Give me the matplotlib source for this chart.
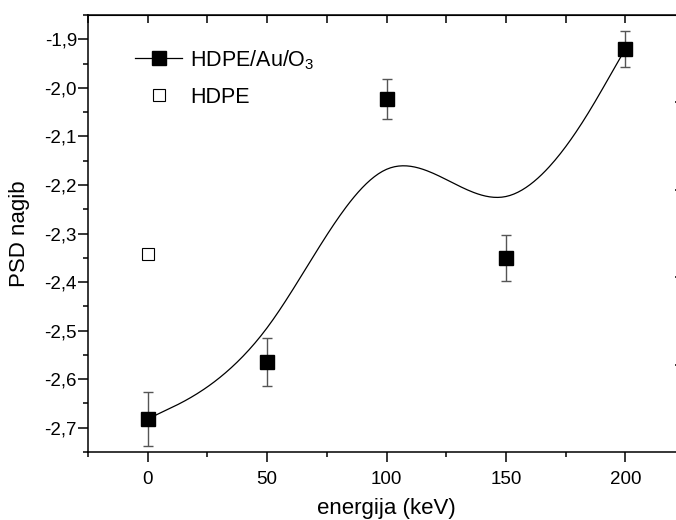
import numpy as np
import matplotlib
matplotlib.use("Agg")
import matplotlib.pyplot as plt
from matplotlib.ticker import MultipleLocator, FuncFormatter

plt.rcParams["font.family"] = ["Liberation Sans", "DejaVu Sans"]
plt.rcParams["mathtext.fontset"] = "custom"
plt.rcParams["mathtext.rm"] = "Liberation Sans"

# HDPE/Au/O3 - energija vs. PSD nagib
energy = [0, 50, 100, 150, 200]
slope = [-2.682, -2.565, -2.023, -2.350, -1.920]
slope_err = [0.055, 0.050, 0.041, 0.047, 0.038]

# HDPE (neozracen)
hdpe_x = [0]
hdpe_y = [-2.342]


def bspline(px, py, n=60):
    # uniformni kubni B-spline, krajnje tocke ponovljene (kao Origin)
    px = np.r_[[px[0]] * 2, px, [px[-1]] * 2]
    py = np.r_[[py[0]] * 2, py, [py[-1]] * 2]
    t = np.linspace(0, 1, n)
    b0 = (1 - t) ** 3 / 6
    b1 = (3 * t**3 - 6 * t**2 + 4) / 6
    b2 = (-3 * t**3 + 3 * t**2 + 3 * t + 1) / 6
    b3 = t**3 / 6
    xs, ys = [], []
    for i in range(len(px) - 3):
        xs.append(b0 * px[i] + b1 * px[i + 1] + b2 * px[i + 2] + b3 * px[i + 3])
        ys.append(b0 * py[i] + b1 * py[i + 1] + b2 * py[i + 2] + b3 * py[i + 3])
    return np.concatenate(xs), np.concatenate(ys)


fig = plt.figure(figsize=(6.76, 5.2), dpi=100)
ax = fig.add_axes([88 / 676, 68 / 520, 597 / 676, 437 / 520])

cx, cy = bspline(np.array(energy, float), np.array(slope, float))
curve, = ax.plot(cx, cy, color="black", lw=0.9)
ax.errorbar(energy, slope, yerr=slope_err, fmt="none", ecolor="#555555",
            elinewidth=1.0, capsize=3.8, capthick=1.0)
pts, = ax.plot(energy, slope, "s", color="black", ms=9.8, ls="none")
open_pts, = ax.plot(hdpe_x, hdpe_y, "s", mfc="white", mec="black", mew=0.8,
                    ms=9.2, ls="none")

ax.set_xlim(-25, 225)
ax.set_ylim(-2.75, -1.85)
ax.xaxis.set_major_locator(MultipleLocator(50))
ax.xaxis.set_minor_locator(MultipleLocator(25))
ax.yaxis.set_major_locator(MultipleLocator(0.1))
ax.yaxis.set_minor_locator(MultipleLocator(0.05))
ax.yaxis.set_major_formatter(FuncFormatter(lambda v, p: f"{v:.1f}".replace(".", ",")))

for s in ax.spines.values():
    s.set_linewidth(1.1)
ax.spines["right"].set_visible(False)

ax.tick_params(axis="both", which="major", direction="out", length=7, width=1.1,
               labelsize=13.5)
ax.tick_params(axis="both", which="minor", direction="out", length=3.5, width=1.1)
ax.tick_params(axis="y", which="major", pad=1)
ax.tick_params(axis="x", which="major", pad=7)

top = ax.secondary_xaxis("top")
top.xaxis.set_major_locator(MultipleLocator(25))
top.tick_params(direction="in", length=6, width=1.1, labeltop=False)

right = ax.twinx()
right.set_ylim(0, 5)
right.set_yticks([1, 2, 3, 4])
right.tick_params(direction="in", length=7, width=1.1, labelright=False)
for s in right.spines.values():
    s.set_visible(False)

ax.set_xlabel("energija (keV)", fontsize=16)
ax.set_ylabel("PSD nagib", fontsize=16)
ax.xaxis.set_label_coords(0.5, -0.105)
ax.yaxis.set_label_coords(-0.097, 0.5)

ax.legend([(curve, pts), open_pts], [r"HDPE/Au/O$_\mathregular{3}$", "HDPE"],
          loc="upper left", bbox_to_anchor=(135 / 676, 1 - 48 / 520),
          bbox_transform=fig.transFigure, frameon=False, fontsize=15.5,
          borderpad=0, borderaxespad=0, handlelength=2.2, handletextpad=0.35,
          labelspacing=0.7, numpoints=1)

fig.savefig("out.png", dpi=100)
